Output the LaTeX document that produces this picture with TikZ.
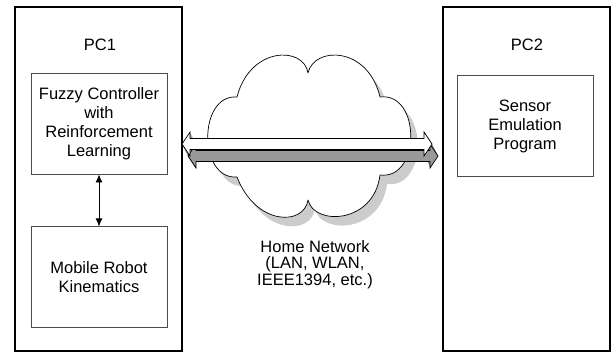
\documentclass[tikz,border=0pt]{standalone}
\usepackage{fontspec}
\setmainfont{Liberation Sans}
\usetikzlibrary{arrows.meta,positioning}

\begin{document}
\begin{tikzpicture}[
  x=1pt, y=-1pt,
  pcbox/.style={rectangle, draw=black, line width=1.6pt, minimum width=167pt, minimum height=344pt, inner sep=0pt},
  block/.style={rectangle, draw=black!70, line width=0.9pt, align=center, minimum width=136pt, minimum height=101pt, font=\fontsize{16.5}{19}\selectfont},
  pctitle/.style={font=\fontsize{16.5}{19}\selectfont},
  line/.style={{Latex[length=8pt,width=7pt]}-{Latex[length=8pt,width=7pt]}, line width=0.8pt},
  linkpath/.style={insert path={(0,0) -- (8,-12) -- (8,-5.5) -- (242,-5.5) -- (242,-12) -- (250,0) -- (242,12) -- (242,5.5) -- (8,5.5) -- (8,12) -- cycle}},
  cloudpath/.style={insert path={(308,73) .. controls (314,46) and (368,46) .. (380,97)
    .. controls (421,92) and (421,180) .. (380,175)
    .. controls (374,224) and (314,226) .. (308,200)
    .. controls (304,226) and (256,226) .. (237,177)
    .. controls (198,180) and (198,94) .. (237,97)
    .. controls (250,46) and (304,46) .. (308,73) -- cycle}}
]
\useasboundingbox (0,0) rectangle (613,354);

% the two computers
\node[pcbox] (pc1) at (98.5,179) {};
\node[pcbox] (pc2) at (526.5,179) {};
\node[pctitle] (pc1title) at (100,45) {PC1};
\node[pctitle] (pc2title) at (527,45) {PC2};

\node[block] (fuzzy) at (99,123.5) {Fuzzy Controller\\with\\Reinforcement\\Learning};
\node[block, below=52pt of fuzzy] (robot) {Mobile Robot\\Kinematics};
\node[block] (sensor) at (525,126) {Sensor\\Emulation\\Program};

\draw[line] (fuzzy) -- (robot);

% network cloud with its shadow
\fill[black!20, shift={(7,9)}, cloudpath];
\draw[fill=white, line width=0.7pt, line join=round, cloudpath];
\node[pctitle, align=center, font=\fontsize{16.5}{16.7}\selectfont] (nettext) at (315,264.5) {Home Network\\(LAN, WLAN,\\IEEE1394, etc.)};

% link between the PCs
\begin{scope}[shift={(182,144)}]
  \foreach \k in {1,...,12}
    \fill[black!40, shift={(\k*0.5,\k)}, linkpath];
  \draw[line width=0.7pt, shift={(6,12)}, linkpath];
  \draw[fill=white, line width=0.7pt, linkpath];
\end{scope}
\end{tikzpicture}
\end{document}
